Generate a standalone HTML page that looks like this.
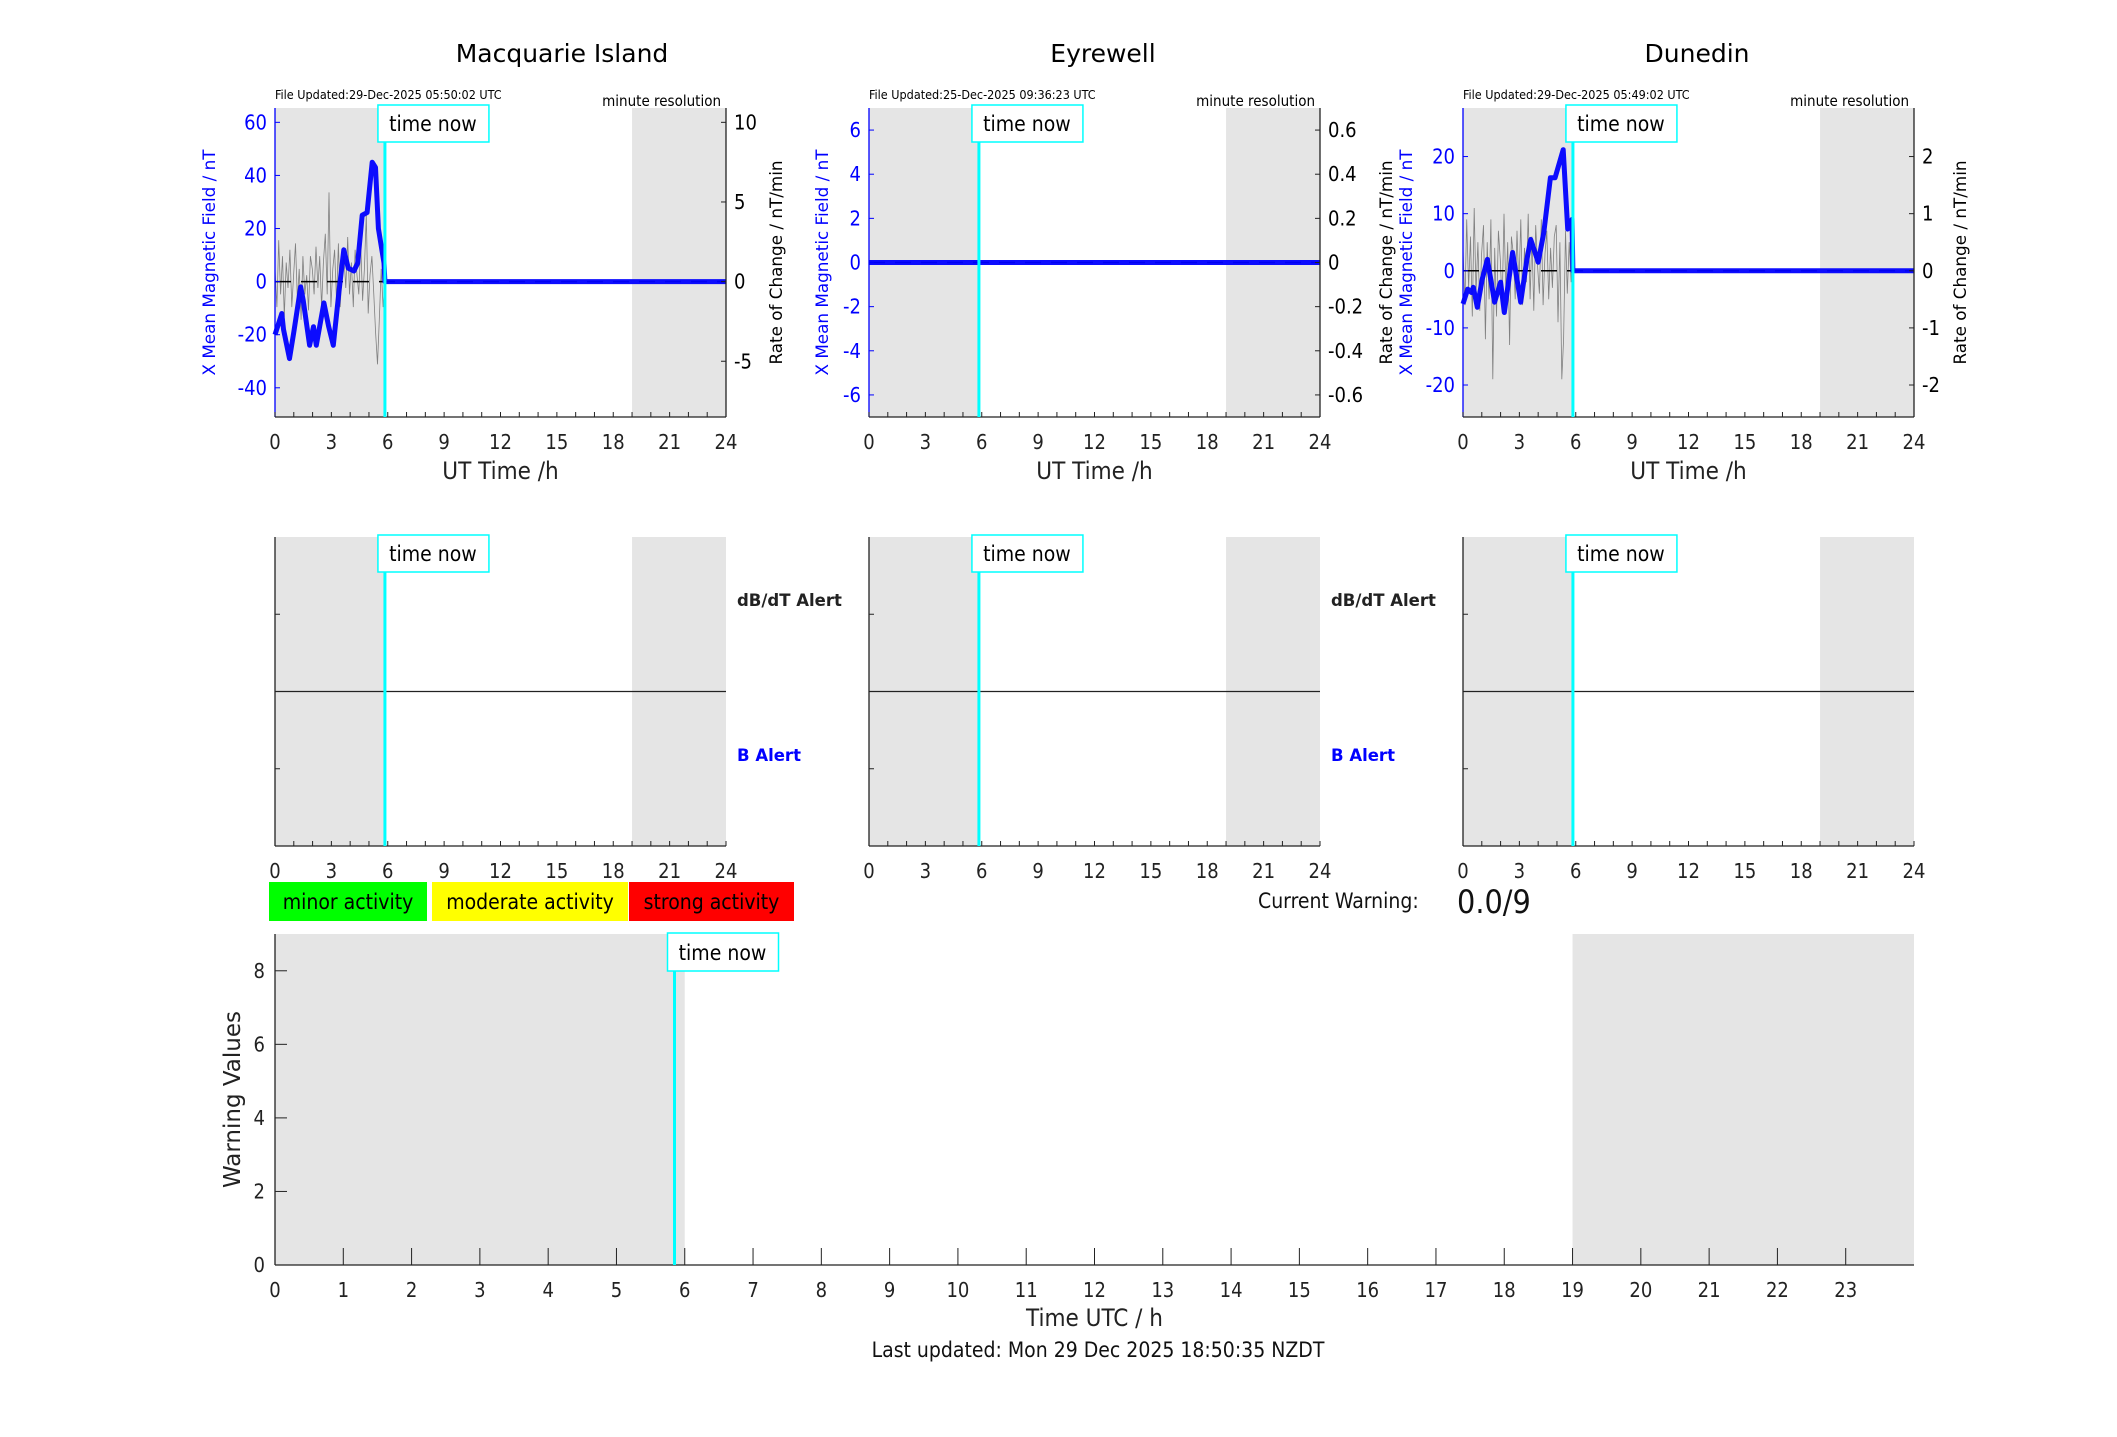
<!DOCTYPE html>
<html><head><meta charset="utf-8"><style>
html,body{margin:0;padding:0;background:#fff;}
svg{display:block;font-family:"DejaVu Sans","Liberation Sans",sans-serif;}
.cd{font-family:"DejaVu Sans Condensed","DejaVu Sans","Liberation Sans",sans-serif;font-stretch:condensed;}
</style></head><body>
<svg id="fig" width="2117" height="1437" viewBox="0 0 2117 1437"></svg>
<script>
// ---- data ----
const macTimes = [0,0.36,0.45,0.77,1.0,1.37,1.5,1.84,2.05,2.2,2.6,2.86,3.1,3.4,3.66,3.9,4.2,4.4,4.64,4.9,5.17,5.35,5.5,5.8,5.85,24];
const macField = [-20,-12,-18,-29,-19,-2,-7,-24,-17,-24,-8,-17,-24,-4,12,5,4,7,25,26,45,43,20,7,0,0];
const macRate = [0.8,-1.6,2.6,-0.8,1.6,-2.2,1.2,-0.4,2.0,-1.6,0.4,2.4,-1.2,0.8,-2.4,1.6,-0.8,0.4,-1.8,1.6,0.8,-0.8,2.2,-0.4,1.6,-1.6,1.2,3.0,-0.8,5.6,-1.6,0.8,2.0,-1.2,2.4,-1.6,0.8,1.6,-0.4,2.8,-0.8,1.2,-1.6,2.0,0.4,-0.8,2.4,-1.2,0.8,4.2,-2.0,0.4,1.6,-0.8,-3.2,-5.2,-2.4,0.8,-1.6,0];
const eyrTimes = [0,24];
const eyrField = [0,0];
const eyrRate = [];
const dunTimes = [0,0.25,0.45,0.55,0.76,1.02,1.3,1.68,2.0,2.2,2.64,3.07,3.4,3.6,4.0,4.3,4.65,4.9,5.33,5.57,5.8,5.85,24];
const dunField = [-5.8,-3.2,-3.8,-2.9,-6.4,-1.5,2,-5.5,-2,-7.3,3.2,-5.5,2,5.5,1.5,6.7,16.3,16.3,21.2,7.3,9.0,0,0];
const dunRate = [0.4,-0.6,0.9,-0.3,0.6,-0.8,1.1,-0.4,0.5,-0.7,0.3,0.8,-1.2,0.5,-0.5,0.9,-1.9,0.4,-0.8,0.7,0.2,-0.6,1.0,-0.4,0.5,-1.3,0.6,0.3,-0.5,0.7,-0.3,0.9,-0.6,0.4,-0.2,1.0,-0.5,0.6,-0.7,0.8,0.1,-0.4,0.9,-0.6,0.3,0.7,-0.5,0.4,-0.3,0.6,0.8,-0.9,0.5,-1.9,-1.2,0.7,-0.4,0.5,-0.2,0.6];
const xTickLabels = [0,3,6,9,12,15,18,21,24];
const bottomXTicks = [0,1,2,3,4,5,6,7,8,9,10,11,12,13,14,15,16,17,18,19,20,21,22,23];
const bottomYTicks = [0,2,4,6,8];
const warnTimes = [];
const warnValues = [];
const timeNow = 5.85;
const nightStart = 19;
const dataEnd = 5.85;

const svg = document.getElementById('fig');
const NS = 'http://www.w3.org/2000/svg';
function mk(tag, attrs, parent){
  const e = document.createElementNS(NS, tag);
  for (const k in attrs) e.setAttribute(k, attrs[k]);
  (parent||svg).appendChild(e);
  return e;
}
function txt(str, attrs, parent){
  const e = mk('text', attrs, parent);
  e.textContent = str;
  return e;
}

const cols = [
  {name:'macquarie', title:'Macquarie Island', tx:562, file:'File Updated:29-Dec-2025 05:50:02 UTC', L:275, R:726,
   yl:[-51,65.4], ylt:[-40,-20,0,20,40,60], yr:[-8.5,10.9], yrt:[-5,0,5,10], yrl:['-5','0','5','10'],
   times:macTimes, field:macField, rate:macRate, lblX:215, rlblX:782},
  {name:'eyrewell', title:'Eyrewell', tx:1103, file:'File Updated:25-Dec-2025 09:36:23 UTC', L:869, R:1320,
   yl:[-7,7], ylt:[-6,-4,-2,0,2,4,6], yr:[-0.7,0.7], yrt:[-0.6,-0.4,-0.2,0,0.2,0.4,0.6], yrl:['-0.6','-0.4','-0.2','0','0.2','0.4','0.6'],
   times:eyrTimes, field:eyrField, rate:eyrRate, lblX:828, rlblX:1392},
  {name:'dunedin', title:'Dunedin', tx:1697, file:'File Updated:29-Dec-2025 05:49:02 UTC', L:1463, R:1914,
   yl:[-25.6,28.5], ylt:[-20,-10,0,10,20], yr:[-2.56,2.85], yrt:[-2,-1,0,1,2], yrl:['-2','-1','0','1','2'],
   times:dunTimes, field:dunField, rate:dunRate, lblX:1412, rlblX:1966}
];
const T1=108, B1=417, T2=537, B2=846;

cols.forEach(c=>{
  const g = mk('g',{});
  
  
  const xs = h => c.L + (c.R-c.L)*h/24;
  const yl = v => B1 - (B1-T1)*(v-c.yl[0])/(c.yl[1]-c.yl[0]);
  const yr = v => B1 - (B1-T1)*(v-c.yr[0])/(c.yr[1]-c.yr[0]);
  const t = txt(c.title,{x:c.tx,y:62,'text-anchor':'middle','font-size':25,fill:'#000'},g);
  
  
  const f = txt(c.file,{x:c.L,y:99,'font-size':12.5,fill:'#000',class:'cd'},g);
  
  
  const m = txt('minute resolution',{x:c.R-5,y:106,'text-anchor':'end','font-size':15,fill:'#000',class:'cd'},g);
  
  
  [ [T1,B1], [T2,B2] ].forEach(([T,B])=>{
    const r1 = mk('rect',{x:c.L,y:T,width:xs(timeNow)-c.L,height:B-T,fill:'#e5e5e5'},g);
    
    
    const r2 = mk('rect',{x:xs(nightStart),y:T,width:c.R-xs(nightStart),height:B-T,fill:'#e5e5e5'},g);
    
    
  });
  if (c.rate.length){
    const n = c.rate.length;
    const pts = c.rate.map((v,i)=>xs(i*dataEnd/(n-1)).toFixed(1)+','+yr(v).toFixed(1)).join(' ');
    const p = mk('polyline',{points:pts,fill:'none',stroke:'#555','stroke-width':0.8,'stroke-opacity':0.7},g);
    
    
  }
  const z = mk('line',{x1:c.L,x2:c.R,y1:yr(0),y2:yr(0),stroke:'#000','stroke-width':1.5,'stroke-dasharray':'16,10'},g);
  
  
  const bp = c.times.map((h,i)=>xs(h).toFixed(1)+','+yl(c.field[i]).toFixed(1)).join(' ');
  const bl = mk('polyline',{points:bp,fill:'none',stroke:'#0000ff','stroke-width':5,'stroke-linejoin':'round','stroke-opacity':0.95},g);
  
  
  const ax = mk('line',{x1:c.L,x2:c.R,y1:B1,y2:B1,stroke:'#222','stroke-width':1.3},g);
  
  
  const la = mk('line',{x1:c.L,x2:c.L,y1:T1,y2:B1,stroke:'#0000ff','stroke-width':1.3},g);
  
  
  const ra = mk('line',{x1:c.R,x2:c.R,y1:T1,y2:B1,stroke:'#222','stroke-width':1.3},g);
  
  
  c.ylt.forEach(v=>{
    mk('line',{x1:c.L,x2:c.L+5,y1:yl(v),y2:yl(v),stroke:'#0000ff','stroke-width':1},g);
    const tl = txt(String(v),{x:c.L-8,y:yl(v)+7,'text-anchor':'end','font-size':20,fill:'#0000ff',class:'cd'},g);
    
    
  });
  c.yrt.forEach((v,i)=>{
    mk('line',{x1:c.R-5,x2:c.R,y1:yr(v),y2:yr(v),stroke:'#222','stroke-width':1},g);
    const tl = txt(c.yrl[i],{x:c.R+8,y:yr(v)+7,'font-size':20,fill:'#000',class:'cd'},g);
    
    
  });
  const yla = txt('X Mean Magnetic Field / nT',{x:c.lblX,y:(T1+B1)/2,'text-anchor':'middle','font-size':16.8,fill:'#0000ff',transform:'rotate(-90 '+c.lblX+' '+(T1+B1)/2+')'},g);
  
  
  const yra = txt('Rate of Change / nT/min',{x:c.rlblX,y:(T1+B1)/2,'text-anchor':'middle','font-size':16.8,fill:'#000',transform:'rotate(-90 '+c.rlblX+' '+(T1+B1)/2+')'},g);
  
  
  const mid = (T2+B2)/2;
  const hl = mk('line',{x1:c.L,x2:c.R,y1:mid,y2:mid,stroke:'#222','stroke-width':1.3},g);
  
  
  mk('line',{x1:c.L,x2:c.L,y1:T2,y2:B2,stroke:'#222','stroke-width':1.3},g);
  mk('line',{x1:c.L,x2:c.R,y1:B2,y2:B2,stroke:'#222','stroke-width':1.3},g);
  [T2+(B2-T2)/4, T2+3*(B2-T2)/4].forEach(y=>mk('line',{x1:c.L,x2:c.L+5,y1:y,y2:y,stroke:'#222','stroke-width':1},g));
  if (c.name!=='dunedin'){
    const a1 = txt('dB/dT Alert',{x:c.R+11,y:606,'font-size':16.5,'font-weight':'bold',fill:'#222'},g);
    
    
    const a2 = txt('B Alert',{x:c.R+11,y:761,'font-size':16.5,'font-weight':'bold',fill:'#0000ff'},g);
    
    
  }
  [B1,B2].forEach(B=>{
    for(let h=0;h<=24;h++) mk('line',{x1:xs(h),x2:xs(h),y1:B,y2:B-5,stroke:'#222','stroke-width':1},g);
    xTickLabels.forEach(v=>{
      const tl = txt(String(v),{x:xs(v),y:B+32,'text-anchor':'middle','font-size':20,fill:'#222',class:'cd'},g);
      
      
    });
  });
  const xt = txt('UT Time /h',{x:(c.L+c.R)/2,y:479,'text-anchor':'middle','font-size':24,fill:'#222',class:'cd'},g);
  
  
  [[T1,B1,105],[T2,B2,535]].forEach(([T,B,by])=>{
    const tn = mk('line',{x1:xs(timeNow),x2:xs(timeNow),y1:T,y2:B,stroke:'#00ffff','stroke-width':3},g);
    
    
    const bx = mk('rect',{x:xs(timeNow)-7,y:by,width:111,height:37,fill:'#fff',stroke:'#00ffff','stroke-width':1.5},g);
    
    
    const bt = txt('time now',{x:xs(timeNow)+48,y:by+26,'text-anchor':'middle','font-size':21,fill:'#000',class:'cd'},g);
    
    
  });
});

const leg = [['minor activity','#00ff00',269,427],['moderate activity','#ffff00',432,628],['strong activity','#ff0000',629,794]];
leg.forEach(([s,col,x0,x1])=>{
  const r = mk('rect',{x:x0,y:882,width:x1-x0,height:39,fill:col});
  
  
  const t = txt(s,{x:(x0+x1)/2,y:909,'text-anchor':'middle','font-size':21,fill:'#000',class:'cd'});
  
  
});
const cw = txt('Current Warning:',{x:1258,y:908,'font-size':21,fill:'#111',class:'cd'});


const cv = txt('0.0/9',{x:1457,y:913,'font-size':32,fill:'#111',class:'cd'});



const BL=275, BR=1914, BT=934, BB=1265;
const bx = h => BL + (BR-BL)*h/24;
const by = v => BB - (BB-BT)*v/9;
const sh1 = mk('rect',{x:BL,y:BT,width:bx(6)-BL,height:BB-BT,fill:'#e5e5e5'});


const sh2 = mk('rect',{x:bx(nightStart),y:BT,width:BR-bx(nightStart),height:BB-BT,fill:'#e5e5e5'});


warnTimes.forEach((h,i)=>{
  const b = mk('rect',{x:bx(h),y:by(warnValues[i]),width:bx(1)-bx(0),height:BB-by(warnValues[i]),fill:'#00ff00'});
  
  
});
mk('line',{x1:BL,x2:BL,y1:BT,y2:BB,stroke:'#222','stroke-width':1.3});
const bxa = mk('line',{x1:BL,x2:BR,y1:BB,y2:BB,stroke:'#222','stroke-width':1.3});


bottomXTicks.forEach(h=>{
  mk('line',{x1:bx(h),x2:bx(h),y1:BB,y2:BB-17,stroke:'#222','stroke-width':1});
  const t = txt(String(h),{x:bx(h),y:BB+32,'text-anchor':'middle','font-size':20,fill:'#222',class:'cd'});
  
  
});
bottomYTicks.forEach(v=>{
  mk('line',{x1:BL,x2:BL+12,y1:by(v),y2:by(v),stroke:'#222','stroke-width':1});
  const t = txt(String(v),{x:BL-10,y:by(v)+7,'text-anchor':'end','font-size':20,fill:'#222',class:'cd'});
  
  
});
const wv = txt('Warning Values',{x:240,y:(BT+BB)/2,'text-anchor':'middle','font-size':23,fill:'#222',transform:'rotate(-90 240 '+(BT+BB)/2+')'});


const tnl = mk('line',{x1:bx(timeNow),x2:bx(timeNow),y1:BT,y2:BB,stroke:'#00ffff','stroke-width':3});


const tnb = mk('rect',{x:bx(timeNow)-7,y:933,width:111,height:38,fill:'#fff',stroke:'#00ffff','stroke-width':1.5});


const tnt = txt('time now',{x:bx(timeNow)+48,y:960,'text-anchor':'middle','font-size':21,fill:'#000',class:'cd'});


const xtt = txt('Time UTC / h',{x:(BL+BR)/2,y:1326,'text-anchor':'middle','font-size':24,fill:'#222',class:'cd'});


const lu = txt('Last updated: Mon 29 Dec 2025 18:50:35 NZDT',{x:1098,y:1357,'text-anchor':'middle','font-size':21,fill:'#111',class:'cd'});


</script>
</body></html>
